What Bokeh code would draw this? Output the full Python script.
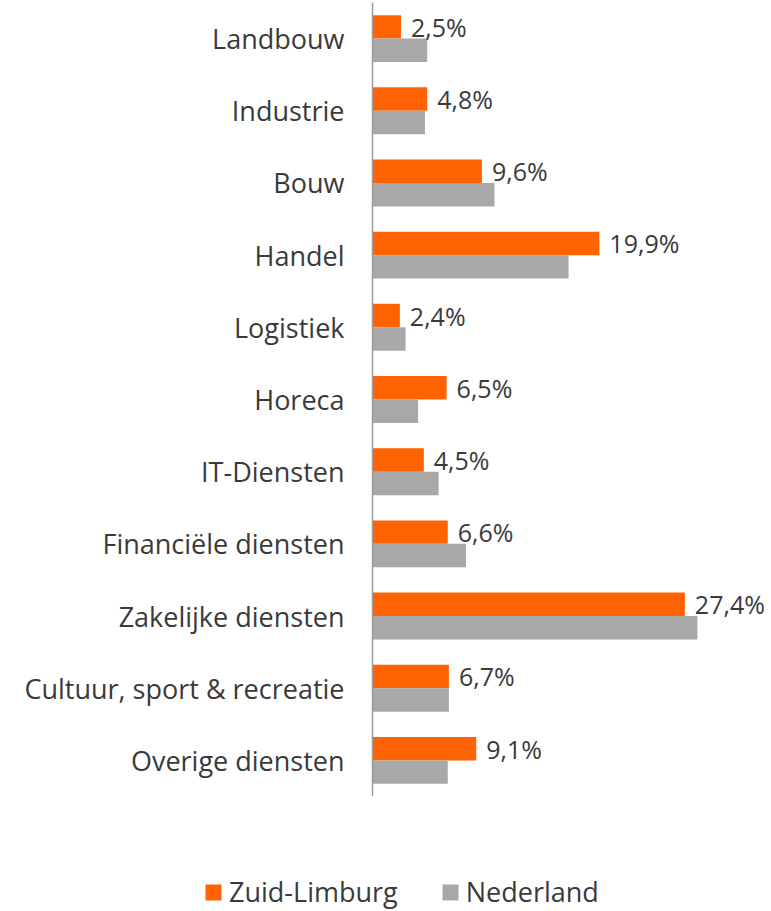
from bokeh.plotting import figure
from bokeh.layouts import column
from bokeh.models import ColumnDataSource, Range1d, FactorRange, Legend, LegendItem
from bokeh.transform import dodge
from bokeh.core.properties import value
from bokeh.embed import file_html
from bokeh.resources import INLINE

categories = ["Landbouw", "Industrie", "Bouw", "Handel", "Logistiek", "Horeca",
              "IT-Diensten", "Financiële diensten", "Zakelijke diensten",
              "Cultuur, sport & recreatie", "Overige diensten"]
zuid_limburg = [2.5, 4.8, 9.6, 19.9, 2.4, 6.5, 4.5, 6.6, 27.4, 6.7, 9.1]
nederland = [4.8, 4.6, 10.7, 17.2, 2.9, 4.0, 5.8, 8.2, 28.5, 6.7, 6.6]
series_names = ["Zuid-Limburg", "Nederland"]
series_colors = ["#FF6200", "#A8A8A8"]

FONT = "Open Sans"
TEXT_COLOR = "#3a3a3a"

labels = [f"{v:.1f}".replace(".", ",") + "%" for v in zuid_limburg]
src = ColumnDataSource(dict(cat=categories, zl=zuid_limburg, nl=nederland, lab=labels))

p = figure(width=771, height=796,
           y_range=FactorRange(factors=categories[::-1]),
           x_range=Range1d(0, 35.0),
           output_backend="svg", toolbar_location=None,
           min_border_left=372, min_border_right=0,
           min_border_top=2, min_border_bottom=0)
p.frame_align = False

r1 = p.hbar(y=dodge("cat", 0.1625, range=p.y_range), left=0, right="zl", height=0.325,
            source=src, fill_color=series_colors[0], line_color=None)
r2 = p.hbar(y=dodge("cat", -0.1625, range=p.y_range), left=0, right="nl", height=0.325,
            source=src, fill_color=series_colors[1], line_color=None)

p.text(x="zl", y=dodge("cat", 0.1625, range=p.y_range), text="lab", source=src,
       x_offset=10, text_align="left", text_baseline="middle",
       text_font=value(FONT), text_font_size="25px", text_color=TEXT_COLOR)

p.xaxis.visible = False
p.xgrid.visible = False
p.ygrid.visible = False
p.outline_line_color = None

ya = p.yaxis[0]
ya.axis_line_color = "#9a9a9a"
ya.axis_line_width = 1.5
ya.major_tick_line_color = None
ya.minor_tick_line_color = None
ya.major_label_standoff = 22
ya.major_label_text_font = FONT
ya.major_label_text_font_size = "27px"
ya.major_label_text_color = TEXT_COLOR

# legend panel below the chart (its renderers are hidden; they only feed the legend swatches)
p2 = figure(width=771, height=115, x_range=Range1d(0, 1), y_range=Range1d(0, 1),
            output_backend="svg", toolbar_location=None,
            min_border_left=0, min_border_right=0, min_border_top=0, min_border_bottom=0)
p2.frame_align = False
p2.axis.visible = False
p2.grid.visible = False
p2.outline_line_color = None
lr1 = p2.hbar(y="zl", left=0, right="zl", height=0.1, source=src,
              fill_color=series_colors[0], line_color=None, visible=False)
lr2 = p2.hbar(y="nl", left=0, right="nl", height=0.1, source=src,
              fill_color=series_colors[1], line_color=None, visible=False)

legend = Legend(items=[LegendItem(label=series_names[0], renderers=[lr1]),
                       LegendItem(label=series_names[1], renderers=[lr2])],
                location=(203, 1), orientation="horizontal",
                glyph_width=20, glyph_height=20, label_standoff=6, spacing=42,
                padding=0, margin=0, border_line_color=None,
                background_fill_alpha=0,
                label_text_font=FONT, label_text_font_size="27px",
                label_text_color=TEXT_COLOR)
p2.add_layout(legend)

layout = column(p, p2, spacing=0)
open("out.html", "w").write(file_html(layout, INLINE))
